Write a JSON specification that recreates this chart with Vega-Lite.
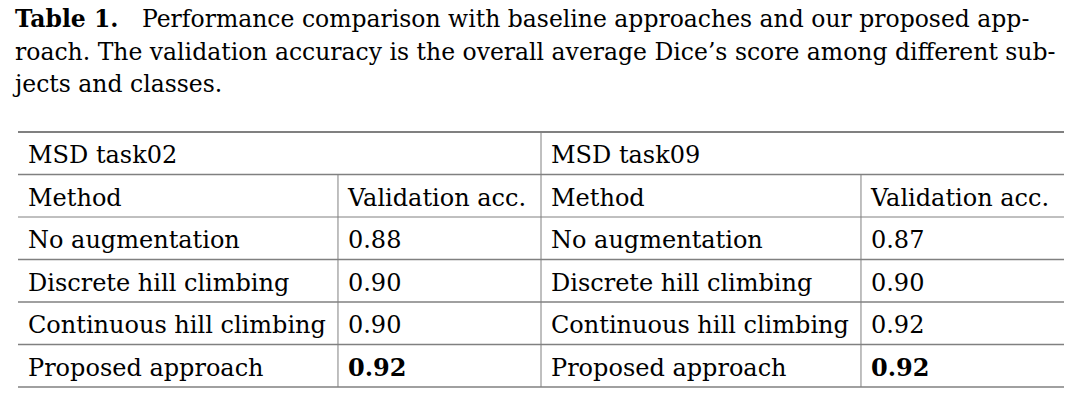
{
  "$schema": "https://vega.github.io/schema/vega-lite/v6.json",
  "width": 1087,
  "height": 408,
  "autosize": {"type": "fit", "contains": "padding"},
  "padding": 0,
  "background": "white",
  "config": {"view": {"stroke": null}},
  "datasets": {
    "caption": [
      {"x": -0.287, "y": -2.47, "t": "Table 1.", "bold": true},
      {"x": 11.85, "y": -2.47, "t": "Performance comparison with baseline approaches and our proposed app-", "bold": false},
      {"x": -0.287, "y": -1.706, "t": "roach. The validation accuracy is the overall average Dice’s score among different sub-", "bold": false},
      {"x": -0.287, "y": -0.941, "t": "jects and classes.", "bold": false}
    ],
    "cells": [
      {"r": 0.5, "c": 0, "t": "MSD task02", "bold": false},
      {"r": 0.5, "c": 50, "t": "MSD task09", "bold": false},
      {"r": 1.5, "c": 0, "t": "Method", "bold": false},
      {"r": 1.5, "c": 30.59, "t": "Validation acc.", "bold": false},
      {"r": 1.5, "c": 50, "t": "Method", "bold": false},
      {"r": 1.5, "c": 80.59, "t": "Validation acc.", "bold": false},
      {"r": 2.5, "c": 0, "t": "No augmentation", "bold": false},
      {"r": 2.5, "c": 30.59, "t": "0.88", "bold": false},
      {"r": 2.5, "c": 50, "t": "No augmentation", "bold": false},
      {"r": 2.5, "c": 80.59, "t": "0.87", "bold": false},
      {"r": 3.5, "c": 0, "t": "Discrete hill climbing", "bold": false},
      {"r": 3.5, "c": 30.59, "t": "0.90", "bold": false},
      {"r": 3.5, "c": 50, "t": "Discrete hill climbing", "bold": false},
      {"r": 3.5, "c": 80.59, "t": "0.90", "bold": false},
      {"r": 4.5, "c": 0, "t": "Continuous hill climbing", "bold": false},
      {"r": 4.5, "c": 30.59, "t": "0.90", "bold": false},
      {"r": 4.5, "c": 50, "t": "Continuous hill climbing", "bold": false},
      {"r": 4.5, "c": 80.59, "t": "0.92", "bold": false},
      {"r": 5.5, "c": 0, "t": "Proposed approach", "bold": false},
      {"r": 5.5, "c": 30.59, "t": "0.92", "bold": true},
      {"r": 5.5, "c": 50, "t": "Proposed approach", "bold": false},
      {"r": 5.5, "c": 80.59, "t": "0.92", "bold": true}
    ],
    "hlines": [
      {"y": 0, "x1": 0, "x2": 100, "kind": "top"},
      {"y": 1, "x1": 0, "x2": 100, "kind": "thin"},
      {"y": 2, "x1": 0, "x2": 100, "kind": "thick"},
      {"y": 3, "x1": 0, "x2": 100, "kind": "thin"},
      {"y": 4, "x1": 0, "x2": 100, "kind": "thin"},
      {"y": 5, "x1": 0, "x2": 100, "kind": "thin"},
      {"y": 6, "x1": 0, "x2": 100, "kind": "thin"}
    ],
    "vlines": [
      {"x": 30.59, "y1": 1, "y2": 6},
      {"x": 50, "y1": 0, "y2": 6},
      {"x": 80.59, "y1": 1, "y2": 6}
    ]
  },
  "layer": [
    {
      "data": {"name": "hlines"},
      "mark": {"type": "rule", "color": "#808080"},
      "encoding": {
        "x": {"field": "x1", "type": "quantitative", "axis": null, "scale": {"domain": [-1.721, 102.199], "nice": false, "zero": false}},
        "x2": {"field": "x2"},
        "y": {"field": "y", "type": "quantitative", "axis": null, "scale": {"domain": [-3.106, 6.494], "nice": false, "zero": false, "reverse": true}},
        "strokeWidth": {"field": "kind", "type": "nominal", "legend": null, "scale": {"domain": ["top", "thin", "thick"], "range": [2, 1, 3]}}
      }
    },
    {
      "data": {"name": "vlines"},
      "mark": {"type": "rule", "color": "#808080", "strokeWidth": 1},
      "encoding": {
        "x": {"field": "x", "type": "quantitative", "axis": null, "scale": {"domain": [-1.721, 102.199], "nice": false, "zero": false}},
        "y": {"field": "y1", "type": "quantitative", "axis": null, "scale": {"domain": [-3.106, 6.494], "nice": false, "zero": false, "reverse": true}},
        "y2": {"field": "y2"}
      }
    },
    {
      "data": {"name": "cells"},
      "transform": [{"filter": "!datum.bold"}],
      "mark": {"type": "text", "align": "left", "baseline": "middle", "dx": 10, "dy": 3, "font": "DejaVu Serif", "fontSize": 24, "color": "#000000"},
      "encoding": {
        "x": {"field": "c", "type": "quantitative", "axis": null, "scale": {"domain": [-1.721, 102.199], "nice": false, "zero": false}},
        "y": {"field": "r", "type": "quantitative", "axis": null, "scale": {"domain": [-3.106, 6.494], "nice": false, "zero": false, "reverse": true}},
        "text": {"field": "t", "type": "nominal"}
      }
    },
    {
      "data": {"name": "cells"},
      "transform": [{"filter": "datum.bold"}],
      "mark": {"type": "text", "align": "left", "baseline": "middle", "dx": 10, "dy": 3, "font": "DejaVu Serif", "fontSize": 24, "fontWeight": "bold", "color": "#000000"},
      "encoding": {
        "x": {"field": "c", "type": "quantitative", "axis": null, "scale": {"domain": [-1.721, 102.199], "nice": false, "zero": false}},
        "y": {"field": "r", "type": "quantitative", "axis": null, "scale": {"domain": [-3.106, 6.494], "nice": false, "zero": false, "reverse": true}},
        "text": {"field": "t", "type": "nominal"}
      }
    },
    {
      "data": {"name": "caption"},
      "transform": [{"filter": "!datum.bold"}],
      "mark": {"type": "text", "align": "left", "baseline": "alphabetic", "font": "DejaVu Serif", "fontSize": 23.5, "color": "#000000"},
      "encoding": {
        "x": {"field": "x", "type": "quantitative", "axis": null, "scale": {"domain": [-1.721, 102.199], "nice": false, "zero": false}},
        "y": {"field": "y", "type": "quantitative", "axis": null, "scale": {"domain": [-3.106, 6.494], "nice": false, "zero": false, "reverse": true}},
        "text": {"field": "t", "type": "nominal"}
      }
    },
    {
      "data": {"name": "caption"},
      "transform": [{"filter": "datum.bold"}],
      "mark": {"type": "text", "align": "left", "baseline": "alphabetic", "font": "DejaVu Serif", "fontSize": 23.5, "fontWeight": "bold", "color": "#000000"},
      "encoding": {
        "x": {"field": "x", "type": "quantitative", "axis": null, "scale": {"domain": [-1.721, 102.199], "nice": false, "zero": false}},
        "y": {"field": "y", "type": "quantitative", "axis": null, "scale": {"domain": [-3.106, 6.494], "nice": false, "zero": false, "reverse": true}},
        "text": {"field": "t", "type": "nominal"}
      }
    }
  ]
}
